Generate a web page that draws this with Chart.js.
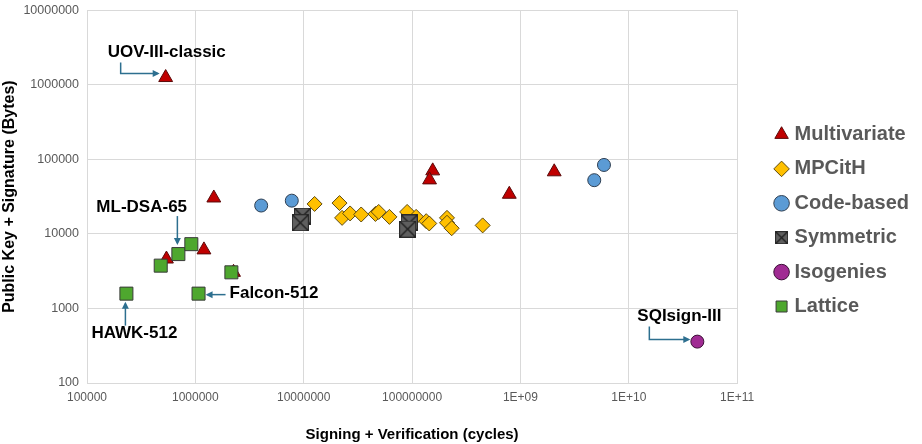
<!DOCTYPE html>
<html>
<head>
<meta charset="utf-8">
<script src="https://cdn.jsdelivr.net/npm/chart.js@4"></script>
<style>
  html, body { margin: 0; padding: 0; background: #fff; }
  #wrap { width: 922px; height: 444px; position: relative; }
</style>
</head>
<body>
<div id="wrap"><canvas id="sigChart"></canvas></div>
<script>
// values (x = cycles, y = bytes)
const seriesNames = ['Multivariate', 'MPCitH', 'Code-based', 'Symmetric', 'Isogenies', 'Lattice'];

const multivariateX = [532e3, 1.48e6, 1.2e6, 541e3, 2.25e6, 155e6, 145e6, 789e6, 2.05e9];
const multivariateY = [1.25e6, 30300, 6100, 4600, 3050, 70000, 53000, 34000, 68000];

const mpcithX = [12.6e6, 21.4e6, 22.6e6, 26.8e6, 33.9e6, 45.9e6, 49.2e6, 61.8e6, 90e6, 109e6, 135e6, 144e6, 210e6, 210e6, 232e6, 448e6];
const mpcithY = [25200, 25900, 16400, 18800, 18200, 18500, 19700, 16900, 19700, 16900, 14800, 13800, 16400, 14100, 11900, 13000];

const codeX = [4.05e6, 7.76e6, 5.9e9, 4.8e9];
const codeY = [24000, 27900, 84000, 52500];

const symmetricX = [9.75e6, 9.3e6, 94e6, 91e6];
const symmetricY = [17300, 14100, 14000, 11600];

const isogenyX = [42.9e9];
const isogenyY = [359];

const latticeX = [231e3, 479e3, 697e3, 918e3, 1.07e6, 2.15e6];
const latticeY = [1580, 3750, 5360, 7280, 1580, 3050];

const xTickValues = [1e5, 1e6, 1e7, 1e8, 1e9, 1e10, 1e11];
const xTickLabels = ['100000', '1000000', '10000000', '100000000', '1E+09', '1E+10', '1E+11'];
const yTickValues = [1e2, 1e3, 1e4, 1e5, 1e6, 1e7];
const yTickLabels = ['100', '1000', '10000', '100000', '1000000', '10000000'];

const calloutText = ['UOV-III-classic', 'ML-DSA-65', 'Falcon-512', 'HAWK-512', 'SQIsign-III'];
const calloutSeries = ['Multivariate', 'Lattice', 'Lattice', 'Lattice', 'Isogenies'];
const calloutPoint = [0, 2, 4, 0, 0];

function pts(xs, ys) {
  return xs.map(function (x, i) { return {x: x, y: ys[i]}; });
}

// gray square with an X for the symmetric marker
function crossBox(size) {
  const c = document.createElement('canvas');
  c.width = size; c.height = size;
  const g = c.getContext('2d');
  g.fillStyle = '#5f5f5f';
  g.fillRect(0.5, 0.5, size - 1, size - 1);
  g.strokeStyle = '#2b2b2b';
  g.lineWidth = 1;
  g.strokeRect(0.5, 0.5, size - 1, size - 1);
  g.beginPath();
  g.moveTo(1, 1); g.lineTo(size - 1, size - 1);
  g.moveTo(size - 1, 1); g.lineTo(1, size - 1);
  g.lineWidth = 1.3;
  g.strokeStyle = '#1e1e1e';
  g.stroke();
  return c;
}
const symBig = crossBox(17);
const symSmall = crossBox(13);

// empty box between plot and legend
const legendGap = {
  id: 'legendGap',
  beforeInit(chart) {
    Chart.layouts.addBox(chart, {
      position: 'right',
      weight: 500,
      fullSize: false,
      options: {},
      width: 0, height: 0,
      isHorizontal() { return false; },
      update(maxWidth, maxHeight) { this.width = 27; this.height = maxHeight; return 27; },
      draw() {}
    });
  }
};

const callouts = {
  id: 'callouts',
  afterDatasetsDraw(chart) {
    const ctx = chart.ctx;
    const xs = chart.scales.x, ys = chart.scales.y;
    // text offset (left, middle) and arrow path relative to the point
    const layout = [
      {tx: -58, ty: -25, path: [[-45, -15], [-45, -4], [-8, -4]]},
      {tx: -82, ty: -47, path: [[-1, -38], [-1, -11]]},
      {tx: 31, ty: 0, path: [[27, 1], [9, 1]]},
      {tx: -35, ty: 40, path: [[-1, 32], [-1, 10]]},
      {tx: -60, ty: -25, path: [[-48, -15], [-48, -2], [-9, -2]]}
    ];
    ctx.save();
    calloutText.forEach(function (txt, i) {
      const ds = chart.data.datasets[seriesNames.indexOf(calloutSeries[i])];
      const p = ds.data[calloutPoint[i]];
      const px = xs.getPixelForValue(p.x), py = ys.getPixelForValue(p.y);
      const L = layout[i];
      ctx.font = 'bold 17px "Liberation Sans", Arial, sans-serif';
      ctx.fillStyle = '#000';
      ctx.textBaseline = 'middle';
      ctx.textAlign = 'left';
      ctx.fillText(txt, px + L.tx, py + L.ty);
      ctx.strokeStyle = '#2d6f8f';
      ctx.fillStyle = '#2d6f8f';
      ctx.lineWidth = 1.5;
      ctx.beginPath();
      L.path.forEach(function (q, k) {
        if (k === 0) ctx.moveTo(px + q[0], py + q[1]); else ctx.lineTo(px + q[0], py + q[1]);
      });
      ctx.stroke();
      const a = L.path[L.path.length - 2], b = L.path[L.path.length - 1];
      const ang = Math.atan2(b[1] - a[1], b[0] - a[0]);
      const hx = px + b[0], hy = py + b[1];
      ctx.beginPath();
      ctx.moveTo(hx + Math.cos(ang) * 2, hy + Math.sin(ang) * 2);
      ctx.lineTo(hx - Math.cos(ang) * 5 - Math.sin(ang) * 3.5, hy - Math.sin(ang) * 5 + Math.cos(ang) * 3.5);
      ctx.lineTo(hx - Math.cos(ang) * 5 + Math.sin(ang) * 3.5, hy - Math.sin(ang) * 5 - Math.cos(ang) * 3.5);
      ctx.closePath();
      ctx.fill();
    });
    ctx.restore();
  }
};

const defaultLabels = Chart.defaults.plugins.legend.labels.generateLabels;

new Chart('sigChart', {
  type: 'scatter',
  data: {
    datasets: [
      {label: 'Multivariate', data: pts(multivariateX, multivariateY), pointStyle: 'triangle', pointRadius: 8,
       backgroundColor: '#c00000', borderColor: '#5a0a0a', borderWidth: 1, order: 5},
      {label: 'MPCitH', data: pts(mpcithX, mpcithY), pointStyle: 'rectRot', pointRadius: 7.5,
       backgroundColor: '#ffc000', borderColor: '#5e4a10', borderWidth: 1, order: 4},
      {label: 'Code-based', data: pts(codeX, codeY), pointStyle: 'circle', pointRadius: 6.5,
       backgroundColor: '#5b9bd5', borderColor: '#2f3f52', borderWidth: 1, order: 3},
      {label: 'Symmetric', data: pts(symmetricX, symmetricY), pointStyle: symBig, pointRadius: 8,
       backgroundColor: '#5f5f5f', borderColor: '#2b2b2b', borderWidth: 1, order: 1},
      {label: 'Isogenies', data: pts(isogenyX, isogenyY), pointStyle: 'circle', pointRadius: 6.5,
       backgroundColor: '#a02b93', borderColor: '#3b1036', borderWidth: 1, order: 2},
      {label: 'Lattice', data: pts(latticeX, latticeY), pointStyle: 'rect', pointRadius: 9.2,
       backgroundColor: '#4ea72e', borderColor: '#3a3a3a', borderWidth: 1, order: 0}
    ]
  },
  options: {
    responsive: true,
    maintainAspectRatio: false,
    animation: false,
    layout: {padding: {top: -3, right: 5, bottom: 0, left: 0}},
    plugins: {
      tooltip: {enabled: false},
      legend: {
        position: 'right',
        labels: {
          usePointStyle: true,
          boxWidth: 6,
          boxHeight: 11,
          padding: 14.4,
          color: '#595959',
          font: {family: '"Liberation Sans", Arial, sans-serif', size: 20, weight: 'bold'},
          sort: function (a, b) { return a.datasetIndex - b.datasetIndex; },
          generateLabels: function (chart) {
            return defaultLabels(chart).map(function (item) {
              if (item.text === 'Symmetric') item.pointStyle = symSmall;
              return item;
            });
          }
        }
      }
    },
    scales: {
      x: {
        type: 'logarithmic',
        min: 1e5,
        max: 1e11,
        afterBuildTicks: function (s) { s.ticks = xTickValues.map(function (v) { return {value: v}; }); },
        afterFit: function (s) { s.height = 61; },
        ticks: {
          autoSkip: false,
          maxRotation: 0,
          padding: 7,
          color: '#595959',
          font: {family: '"Liberation Sans", Arial, sans-serif', size: 12},
          callback: function (v) { const i = xTickValues.indexOf(v); return i < 0 ? '' : xTickLabels[i]; }
        },
        grid: {color: '#d9d9d9', drawTicks: false},
        border: {color: '#d9d9d9'},
        title: {
          display: true,
          text: 'Signing + Verification (cycles)',
          color: '#000',
          padding: {top: 0, bottom: 0},
          font: {family: '"Liberation Sans", Arial, sans-serif', size: 15, weight: 'bold'}
        }
      },
      y: {
        type: 'logarithmic',
        min: 100,
        max: 1e7,
        afterBuildTicks: function (s) { s.ticks = yTickValues.map(function (v) { return {value: v}; }); },
        afterFit: function (s) { s.width = 87; s.paddingTop = 4; s.paddingBottom = 7; },
        ticks: {
          autoSkip: false,
          padding: 8,
          color: '#595959',
          font: {family: '"Liberation Sans", Arial, sans-serif', size: 12.5},
          callback: function (v) { const i = yTickValues.indexOf(v); return i < 0 ? '' : yTickLabels[i]; }
        },
        grid: {color: '#d9d9d9', drawTicks: false},
        border: {color: '#d9d9d9'},
        title: {
          display: true,
          text: 'Public Key + Signature (Bytes)',
          color: '#000',
          padding: {top: 0, bottom: 0},
          font: {family: '"Liberation Sans", Arial, sans-serif', size: 16, weight: 'bold'}
        }
      }
    }
  },
  plugins: [legendGap, callouts]
});
</script>
</body>
</html>
